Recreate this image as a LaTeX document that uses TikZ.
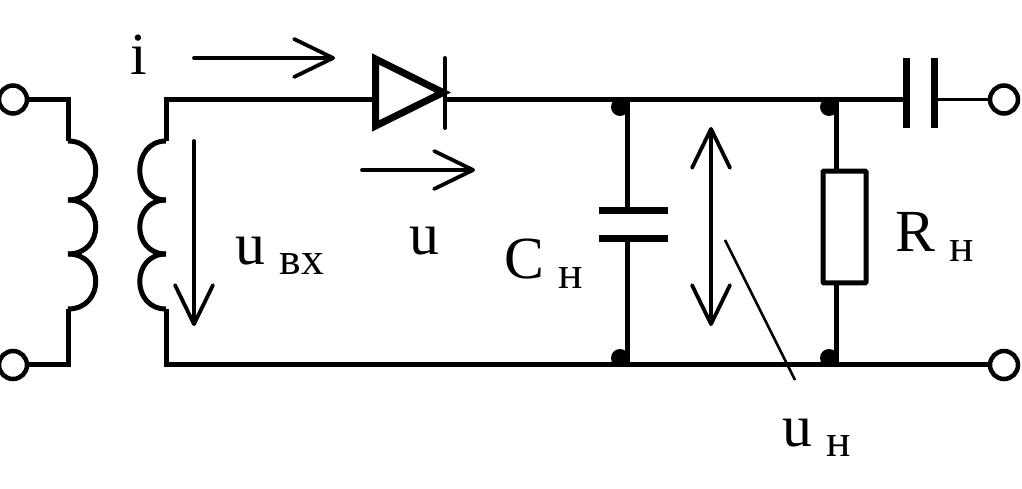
\documentclass[tikz,border=0pt]{standalone}
\usepackage{fontspec}
\setmainfont{Liberation Serif}
\usepackage{xcolor}
\usetikzlibrary{arrows.meta, positioning, calc}

\newcommand{\subtxt}[1]{\hspace{0.29cm}\raisebox{-0.2cm}{\fontsize{26}{28}\selectfont #1}}

\begin{document}
\begin{tikzpicture}[
    x=0.02cm,
    y=-0.02cm,
    wire/.style={line width=0.1cm, black},
    thin_wire/.style={line width=0.06cm, black},
    plate_node/.style={
        rectangle,
        fill=black,
        inner sep=0pt,
        minimum width=1.38cm,
        minimum height=0.14cm
    },
    term_node/.style={
        circle,
        draw=black,
        fill=white,
        line width=0.09cm,
        inner sep=0pt,
        minimum size=0.56cm
    },
    dot_node/.style={
        circle,
        fill=black,
        inner sep=0pt,
        minimum size=0.36cm
    },
    res_node/.style={
        rectangle,
        draw=black,
        fill=white,
        line width=0.1cm,
        rounded corners=0.5pt,
        inner sep=0pt,
        minimum width=0.86cm,
        minimum height=2.24cm
    },
    label_node/.style={
        inner sep=0pt,
        anchor=base west,
        font=\fontsize{34}{40}\selectfont
    },
    arrow/.style={
        -{Straight Barb[length=0.78cm, width=0.76cm, round]},
        line width=0.076cm,
        line cap=round,
        black
    },
    double_arrow/.style={
        {Straight Barb[length=0.78cm, width=0.76cm, round]}-{Straight Barb[length=0.78cm, width=0.76cm, round]},
        line width=0.076cm,
        black
    }
]
    \useasboundingbox (0, 0) rectangle (1022, 489);

    % Coordinates of the wires
    \coordinate (prim_top) at (68, 141);
    \coordinate (prim_bot) at (68, 309);
    \coordinate (sec_top) at (166, 141);
    \coordinate (sec_bot) at (166, 309);
    \coordinate (sec_up) at (166, 99.5);
    \coordinate (sec_low) at (166, 365);
    \coordinate (anode) at (375, 99.5);
    \coordinate (cathode) at (445, 99.5);
    \coordinate (c_top) at (627, 99.5);
    \coordinate (c_low) at (627, 365);
    \coordinate (r_top) at (836, 99.5);
    \coordinate (r_low) at (836, 365);
    \coordinate (r_in) at (836, 171);
    \coordinate (r_out) at (836, 283);
    \coordinate (u_tail) at (725, 240);
    \coordinate (u_end) at (795, 380);

    % Nodes
    \node[term_node] (in_a) at (13, 99.5) {};
    \node[term_node] (in_b) at (13, 365) {};
    \node[term_node] (out_a) at (1004, 99.5) {};
    \node[term_node] (out_b) at (1004, 365) {};

    \node[dot_node] (dot_a) at (620, 107) {};
    \node[dot_node] (dot_b) at (829, 107) {};
    \node[dot_node] (dot_c) at (620, 358) {};
    \node[dot_node] (dot_d) at (829, 358) {};

    \node[plate_node] (c_plate_a) at (633.5, 211) {};
    \node[plate_node] (c_plate_b) at (633.5, 239) {};

    \node[res_node] (load) at (844.5, 227) {};

    \node[plate_node, minimum width=0.14cm, minimum height=1.4cm] (out_plate_a) at (906.5, 93) {};
    \node[plate_node, minimum width=0.14cm, minimum height=1.4cm] (out_plate_b) at (934, 93) {};

    % Wires
    \draw[wire] (in_a) -| (prim_top);
    \draw[wire] (in_b) -| (prim_bot);
    \draw[wire] (sec_top) -- (sec_up) -- (anode);
    \draw[wire] (cathode) -- (c_top) -- (r_top) -- (out_plate_a.center |- r_top);
    \draw[wire] (sec_bot) -- (sec_low) -- (c_low) -- (r_low) -- (out_b);
    \draw[wire] (c_top) -- (c_plate_a.center -| c_top);
    \draw[wire] (c_plate_b.center -| c_low) -- (c_low);
    \draw[wire] (r_top) -- (r_in);
    \draw[wire] (r_out) -- (r_low);
    \draw[thin_wire] (out_plate_b.east |- out_a) -- (out_a);

    % Coils
    \foreach \ya/\yb in {141/200, 200/254, 254/309} {
        \draw[wire] (68, \ya) .. controls (105, \ya) and (105, \yb) .. (68, \yb);
        \draw[wire] (166, \ya) .. controls (131, \ya) and (131, \yb) .. (166, \yb);
    }

    % Diode
    \draw[line width=0.14cm, black, line join=miter] (375.5, 59) -- (443, 92.5) -- (375.5, 126) -- cycle;
    \draw[line width=0.08cm, line cap=round] (445, 58) -- (445, 128);

    % Arrows
    \draw[arrow] (194, 58) -- (335, 58);
    \draw[arrow] (362, 170) -- (475, 170);
    \draw[arrow] (194, 141) -- (194, 326);
    \draw[double_arrow] (711, 127) -- (711, 326);
    \draw[line width=0.05cm] (u_tail) -- (u_end);

    % Labels
    \node[label_node] (lbl_i) at (130, 75) {i};
    \node[label_node] (lbl_u) at (409, 255) {u};
    \node[label_node] (lbl_uin) at (235, 265) {u\subtxt{вх}};
    \node[label_node] (lbl_c) at (504, 279) {C\subtxt{н}};
    \node[label_node] (lbl_r) at (895, 252) {R\subtxt{н}};
    \node[label_node] (lbl_un) at (782, 447) {u\subtxt{н}};
\end{tikzpicture}
\end{document}
